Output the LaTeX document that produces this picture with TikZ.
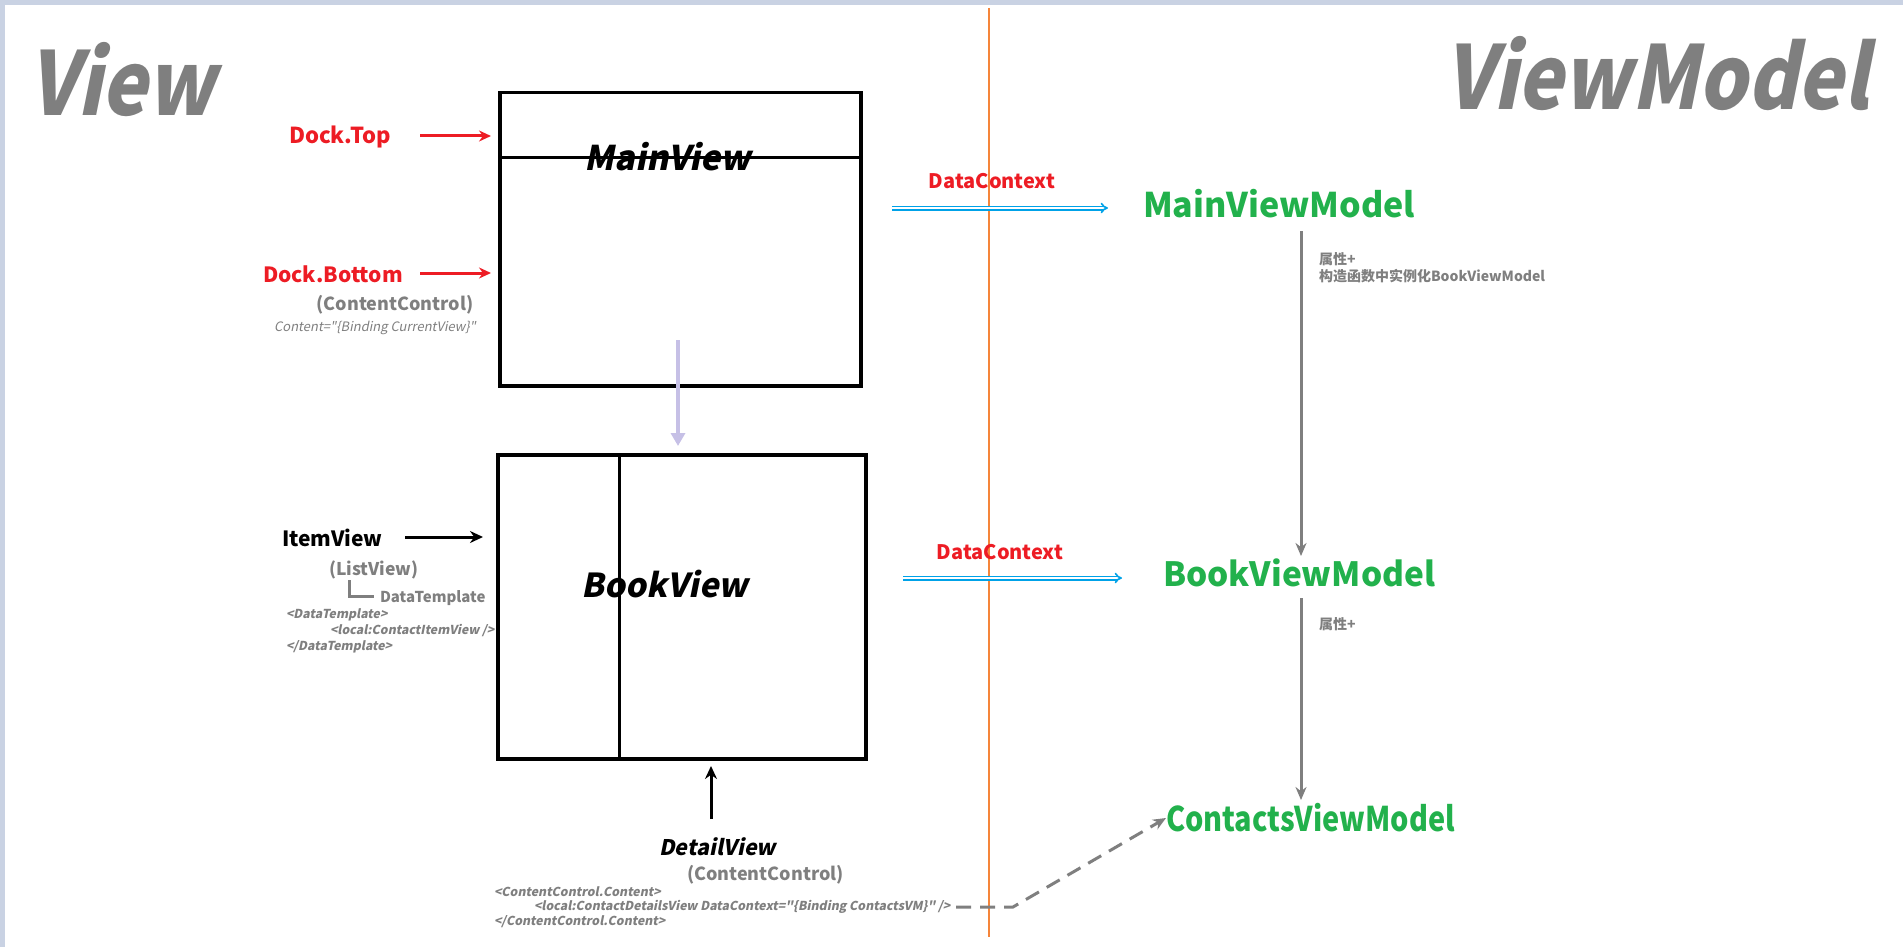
\documentclass[tikz,border=0pt]{standalone}
\usepackage{fontspec}
\setmainfont{Noto Sans CJK SC}
\newfontfamily\yhsl{Noto Sans CJK SC}[FakeSlant=0.2]
\newfontfamily\yhsln{Noto Sans CJK SC}[FakeSlant=0.2, FakeStretch=0.87]
\newfontfamily\yhn{Noto Sans CJK SC}[FakeStretch=0.85]
\usetikzlibrary{arrows.meta}
\definecolor{cred}{HTML}{ED1C24}
\definecolor{cgreen}{HTML}{22B14C}
\definecolor{cgray}{HTML}{7F7F7F}
\definecolor{cblue}{HTML}{00A2E8}
\definecolor{corange}{HTML}{F5853A}
\definecolor{clav}{HTML}{C6C0E6}
\definecolor{cframe}{HTML}{C9D2E3}
\tikzset{
  txt/.style={inner sep=0pt, outer sep=0pt},
  title/.style={txt, text=cgray, font=\yhsln\bfseries\fontsize{88}{88}\selectfont},
  viewlbl/.style={txt, font=\yhsl\bfseries\fontsize{34}{34}\selectfont},
  redlbl/.style={txt, text=cred, font=\bfseries\fontsize{22}{22}\selectfont},
  dclbl/.style={txt, text=cred, font=\bfseries\fontsize{20}{20}\selectfont},
  graylbl/.style={txt, text=cgray, font=\bfseries\fontsize{18}{18}\selectfont},
  codelbl/.style={txt, text=cgray, font=\yhsl\bfseries\fontsize{12.3}{12.3}\selectfont},
  vmlbl/.style={txt, text=cgreen, font=\bfseries\fontsize{34}{34}\selectfont},
  notelbl/.style={txt, text=cgray, font=\bfseries\fontsize{14}{14}\selectfont},
  frame/.style={draw=black, line width=3.5pt},
  redarrow/.style={draw=cred, line width=3pt, -{Stealth[length=12pt,width=11pt]}},
  blackarrow/.style={draw=black, line width=3pt, -{Stealth[length=13pt,width=12pt]}},
  grayarrow/.style={draw=cgray, line width=3pt, -{Stealth[length=13pt,width=11pt]}},
  lavarrow/.style={draw=clav, line width=3.5pt, -{Triangle[length=13pt,width=14pt]}},
  bluearrow/.style={draw=cblue, double=white, double distance=1.8pt, line width=1.6pt, -{Implies[length=11pt,width=15pt]}},
}
\begin{document}
\begin{tikzpicture}[x=1pt,y=-1pt]
\useasboundingbox (0,0) rectangle (1903,947);
% frame bands
\fill[cframe] (0,0) rectangle (1903,5);
\fill[cframe] (0,0) rectangle (5,947);

% titles
\node[title, anchor=base west] (tview) at (28,116) {View};
\node[title, anchor=base west] (tvm) at (1444,110) {ViewModel};

% orange divider
\coordinate (otop) at (989,8);
\coordinate (obot) at (989,937);
\draw[corange, line width=2.5pt] (otop) -- (obot);

% MainView box
\node[frame, minimum width=361pt, minimum height=293pt, anchor=north west, inner sep=0pt] (mainbox) at (498,91) {};
\coordinate (mvl) at (498,157);
\coordinate (mvr) at (859,157);
\draw[black, line width=3pt] (mvl) -- (mvr);
\node[viewlbl] (mvlabel) at (668,157) {MainView};

\node[redlbl, anchor=west] (docktop) at (289,137) {Dock.Top};
\coordinate (dta) at (420,136);
\coordinate (dtb) at (491,136);
\draw[redarrow] (dta) -- (dtb);
\node[redlbl, anchor=west, font=\bfseries\fontsize{21}{21}\selectfont] (dockbot) at (263,274) {Dock.Bottom};
\coordinate (dba) at (420,273);
\coordinate (dbb) at (491,273);
\draw[redarrow] (dba) -- (dbb);
\node[graylbl] (cc1) at (395,305) {(ContentControl)};
\node[txt, text=cgray, font=\yhsl\fontsize{13}{13}\selectfont] (cc1b) at (375,328) {Content="\{Binding CurrentView\}"};

% lavender arrow
\coordinate (lava) at (678,340);
\coordinate (lavb) at (678,446);
\draw[lavarrow] (lava) -- (lavb);

% BookView box
\node[frame, minimum width=368pt, minimum height=304pt, anchor=north west, inner sep=0pt] (bookbox) at (496,453) {};
\coordinate (bvt) at (619,453);
\coordinate (bvb) at (619,757);
\draw[black, line width=3pt] (bvt) -- (bvb);
\node[viewlbl, font=\yhsl\bfseries\fontsize{33}{33}\selectfont] (bvlabel) at (665,584) {BookView};

\node[txt, anchor=west, font=\bfseries\fontsize{21}{21}\selectfont] (itemview) at (282,538) {ItemView};
\coordinate (iva) at (405,537);
\coordinate (ivb) at (483,537);
\draw[blackarrow] (iva) -- (ivb);
\node[graylbl, anchor=west, font=\bfseries\fontsize{17.5}{17.5}\selectfont] (listview) at (329,570) {(ListView)};
\coordinate (br1) at (349,580);
\coordinate (br2) at (349,596);
\coordinate (br3) at (374,596);
\draw[cgray, line width=3pt] (br1) -- (br2) -- (br3);
\node[txt, text=cgray, font=\bfseries\fontsize{15}{15}\selectfont, anchor=west] (dtpl) at (380,598) {DataTemplate};
\node[codelbl, anchor=west] (code1) at (286,615) {<DataTemplate>};
\node[codelbl, anchor=west] (code2) at (330,631) {<local:ContactItemView />};
\node[codelbl, anchor=west] (code3) at (286,647) {</DataTemplate>};

% DetailView
\coordinate (dva) at (711,819);
\coordinate (dvb) at (711,766);
\draw[blackarrow] (dva) -- (dvb);
\node[txt, anchor=west, font=\yhsl\bfseries\fontsize{21.5}{21.5}\selectfont] (detail) at (659,847) {DetailView};
\node[graylbl, anchor=west] (cc2) at (687,875) {(ContentControl)};
\node[codelbl, anchor=west] (code4) at (494,892) {<ContentControl.Content>};
\node[codelbl, anchor=west] (code5) at (534,907) {<local:ContactDetailsView DataContext="\{Binding ContactsVM\}" />};
\node[codelbl, anchor=west] (code6) at (494,922) {</ContentControl.Content>};

% ViewModels
\node[dclbl] (dc1) at (992,181) {DataContext};
\coordinate (b1a) at (892,208);
\coordinate (b1b) at (1108,208);
\draw[bluearrow] (b1a) -- (b1b);
\node[vmlbl, anchor=west] (mvm) at (1143,204) {MainViewModel};

\coordinate (g1a) at (1301,231);
\coordinate (g1b) at (1301,556);
\draw[grayarrow] (g1a) -- (g1b);
\node[notelbl, anchor=west] (n1) at (1319,259) {属性+};
\node[notelbl, anchor=west] (n2) at (1319,276) {构造函数中实例化BookViewModel};

\node[dclbl] (dc2) at (1000,552) {DataContext};
\coordinate (b2a) at (903,578);
\coordinate (b2b) at (1122,578);
\draw[bluearrow] (b2a) -- (b2b);
\node[vmlbl, anchor=west, font=\bfseries\fontsize{33.4}{33.4}\selectfont] (bvm) at (1163,573) {BookViewModel};

\coordinate (g2a) at (1301,598);
\coordinate (g2b) at (1301,800);
\draw[grayarrow] (g2a) -- (g2b);
\node[notelbl, anchor=west] (n3) at (1319,624) {属性+};

\node[vmlbl, anchor=west, font=\yhn\bfseries\fontsize{34}{34}\selectfont] (cvm) at (1166,818) {ContactsViewModel};

\coordinate (da) at (956,907);
\coordinate (db) at (1013,907);
\draw[cgray, line width=3pt, dash pattern=on 15pt off 9pt, -{Stealth[length=13pt,width=11pt]}] (da) -- (db) -- (cvm.west);
\end{tikzpicture}
\end{document}
